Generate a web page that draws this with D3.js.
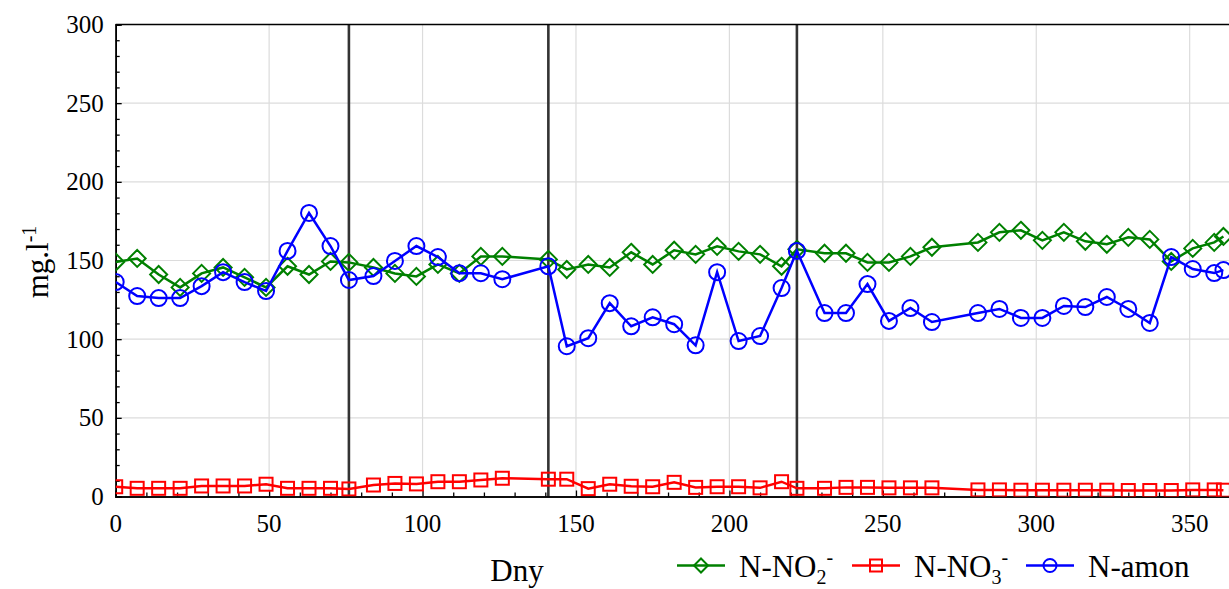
<!DOCTYPE html>
<html>
<head>
<meta charset="utf-8">
<script src="https://cdn.jsdelivr.net/npm/d3@7"></script>
<style>
  body { margin: 0; background: #fff; }
  svg { display: block; }
  .lbl { font-family: "Liberation Serif", "Times New Roman", Times, serif; fill: #000; }
</style>
</head>
<body>
<svg id="chart"></svg>
<script>
// sampling days (weekly)
const days = [0, 7, 14, 21, 28, 35, 42, 49, 56, 63, 70, 76, 84, 91, 98, 105, 112, 119, 126,
  141, 147, 154, 161, 168, 175, 182, 189, 196, 203, 210, 217, 222, 231, 238, 245, 252, 259, 266,
  281, 288, 295, 302, 309, 316, 323, 330, 337, 344, 351, 358, 361];

const nitrite = [149, 151.3, 141.1, 132.9, 141.8, 145.6, 139.3, 132.9, 146.3, 141.1, 149.4, 148.8, 145.6, 141.8, 139.9, 147.5, 141.8, 152.6, 152.6,
  150.7, 144.3, 147.5, 145.6, 155.2, 147.5, 156.5, 153.9, 159, 155.8, 153.9, 146.3, 157.1, 154.6, 154.6, 148.8, 148.8, 152.6, 158.4,
  161.5, 167.9, 169.2, 162.8, 167.9, 162.2, 160.3, 164.7, 163.4, 149.4, 157.7, 161.5, 165.3];

const nitrate = [6.2, 5.2, 5.2, 5.2, 6.7, 6.7, 6.7, 7.8, 5.2, 5.2, 5.2, 4.8, 7.3, 8.3, 8, 9.4, 9.4, 10.5, 11.6,
  11, 11, 5, 7.8, 6.5, 6.2, 9, 5.8, 6.2, 6.2, 5.5, 9.4, 5.2, 5.2, 5.8, 5.8, 5.5, 5.5, 5.5,
  4.2, 4.2, 4, 4, 4, 4, 4, 3.8, 3.8, 3.8, 4.2, 4.2, 4];

const ammonium = [136.3, 127.4, 126.1, 126.1, 133.7, 142.6, 136.3, 130.6, 156.1, 180.2, 159.2, 137.6, 140.1, 149.7, 159.2, 152.2, 141.9, 141.9, 138.1,
  146.3, 95.5, 100.6, 122.9, 108.2, 113.9, 109.5, 96.1, 142.6, 98.8, 102, 132.5, 156.1, 116.6, 116.6, 135, 111.6, 119.8, 110.9,
  116.6, 119.2, 113.5, 113.5, 121.1, 120.4, 126.8, 119.2, 110.3, 152.2, 144.6, 142, 143.9];

// phase boundaries
const phases = [76, 141, 222];

const xTicks = [0, 50, 100, 150, 200, 250, 300, 350];
const yTicks = [0, 50, 100, 150, 200, 250, 300];

const W = 1229, H = 589;
const margin = { top: 24.5, left: 115.7 };
const width = 1120, height = 472;

const svg = d3.select("#chart").attr("width", W).attr("height", H);

const x = d3.scaleLinear().domain([0, 365]).range([margin.left, margin.left + width]);
const y = d3.scaleLinear().domain([0, 300]).range([margin.top + height, margin.top]);

svg.append("defs").append("clipPath").attr("id", "plot")
  .append("rect")
  .attr("x", margin.left).attr("y", margin.top)
  .attr("width", width).attr("height", height);

// grid
svg.append("g").selectAll("line").data(xTicks.filter(d => d > 0)).enter().append("line")
  .attr("x1", d => x(d)).attr("x2", d => x(d))
  .attr("y1", y(0)).attr("y2", y(300))
  .attr("stroke", "#dcdcdc").attr("stroke-width", 1.2);
svg.append("g").selectAll("line").data(yTicks.filter(d => d > 0 && d < 300)).enter().append("line")
  .attr("x1", x(0)).attr("x2", x(365))
  .attr("y1", d => y(d)).attr("y2", d => y(d))
  .attr("stroke", "#dcdcdc").attr("stroke-width", 1.2);

// phase lines
svg.append("g").selectAll("line").data(phases).enter().append("line")
  .attr("x1", d => x(d)).attr("x2", d => x(d))
  .attr("y1", y(0)).attr("y2", y(300))
  .attr("stroke", "#333").attr("stroke-width", 2.6);

// axes (ticks only; labels drawn below)
const minorX = d3.range(0, 366, 10).filter(d => d % 50 !== 0);
const minorY = d3.range(0, 301, 10).filter(d => d % 50 !== 0);

svg.append("g")
  .attr("transform", `translate(0,${y(0)})`)
  .call(d3.axisBottom(x).tickValues(xTicks).tickSize(-6).tickFormat(""));
svg.append("g")
  .attr("transform", `translate(0,${y(0)})`)
  .call(d3.axisBottom(x).tickValues(minorX).tickSize(-4).tickFormat(""));
svg.append("g")
  .attr("transform", `translate(${x(0)},0)`)
  .call(d3.axisLeft(y).tickValues(yTicks).tickSize(-6).tickFormat(""));
svg.append("g")
  .attr("transform", `translate(${x(0)},0)`)
  .call(d3.axisLeft(y).tickValues(minorY).tickSize(-4).tickFormat(""));

svg.selectAll(".domain").attr("stroke", "#000").attr("stroke-width", 1.6);
svg.selectAll(".tick line").attr("stroke", "#000").attr("stroke-width", 1.3);

svg.append("g").selectAll("text").data(xTicks).enter().append("text")
  .attr("class", "lbl")
  .attr("x", d => x(d)).attr("y", y(0) + 35)
  .attr("text-anchor", "middle")
  .attr("font-size", 25)
  .text(d => d);
svg.append("g").selectAll("text").data(yTicks).enter().append("text")
  .attr("class", "lbl")
  .attr("x", x(0) - 12).attr("y", d => y(d) + 8.5)
  .attr("text-anchor", "end")
  .attr("font-size", 25)
  .text(d => d);

// top frame
svg.append("line")
  .attr("x1", x(0)).attr("x2", x(365))
  .attr("y1", y(300)).attr("y2", y(300))
  .attr("stroke", "#000").attr("stroke-width", 1.6);

// series
const series = [
  { name: "NO2", values: nitrite, color: "#008000", shape: "diamond" },
  { name: "NO3", values: nitrate, color: "#ff0000", shape: "square" },
  { name: "amon", values: ammonium, color: "#0000ff", shape: "circle" }
];

function marker(g, shape, color) {
  if (shape === "diamond") {
    g.append("path").attr("d", "M0,-8.5L8.5,0L0,8.5L-8.5,0Z");
  } else if (shape === "square") {
    g.append("rect").attr("x", -6.5).attr("y", -6.5).attr("width", 13).attr("height", 13);
  } else {
    g.append("circle").attr("r", 8);
  }
  g.selectAll("*").attr("fill", "none").attr("stroke", color).attr("stroke-width", 2);
}

const plot = svg.append("g").attr("clip-path", "url(#plot)");
const line = d3.line().x(d => x(d[0])).y(d => y(d[1]));

series.forEach(s => {
  const pts = days.map((d, i) => [d, s.values[i]]);
  plot.append("path")
    .datum(pts)
    .attr("d", line)
    .attr("fill", "none")
    .attr("stroke", s.color)
    .attr("stroke-width", 2.5);
  plot.selectAll(null).data(pts).enter().append("g")
    .attr("transform", d => `translate(${x(d[0])},${y(d[1])})`)
    .each(function() { marker(d3.select(this), s.shape, s.color); });
});

// axis titles
svg.append("text")
  .attr("class", "lbl")
  .attr("x", 517).attr("y", 581)
  .attr("text-anchor", "middle")
  .attr("font-size", 31)
  .text("Dny");

const yt = svg.append("text")
  .attr("class", "lbl")
  .attr("transform", `translate(48,262) rotate(-90)`)
  .attr("text-anchor", "middle")
  .attr("font-size", 31);
yt.append("tspan").text("mg.l");
yt.append("tspan").attr("dy", -12).attr("font-size", 20).text("-1");

// legend
const legend = [
  { x: 677, color: "#008000", shape: "diamond", main: "N-NO", sub: "2" },
  { x: 852, color: "#ff0000", shape: "square", main: "N-NO", sub: "3" },
  { x: 1026, color: "#0000ff", shape: "circle", main: "N-amon", sub: null }
];
const ly = 565.5;
legend.forEach(l => {
  const g = svg.append("g");
  g.append("line").attr("x1", l.x).attr("x2", l.x + 48)
    .attr("y1", ly).attr("y2", ly)
    .attr("stroke", l.color).attr("stroke-width", 2.5);
  const m = g.append("g").attr("transform", `translate(${l.x + 24},${ly})`);
  marker(m, l.shape, l.color);
  m.selectAll("path").attr("d", "M0,-7L7,0L0,7L-7,0Z");
  m.selectAll("rect").attr("x", -6).attr("y", -6).attr("width", 12).attr("height", 12);
  m.selectAll("circle").attr("r", 6.5);
  const t = g.append("text").attr("class", "lbl").attr("x", l.x + 62).attr("y", 577).attr("font-size", 31);
  t.append("tspan").text(l.main);
  if (l.sub) {
    t.append("tspan").attr("dy", 7).attr("font-size", 20).text(l.sub);
    t.append("tspan").attr("dy", -20).attr("font-size", 20).text("-");
  }
});
</script>
</body>
</html>
